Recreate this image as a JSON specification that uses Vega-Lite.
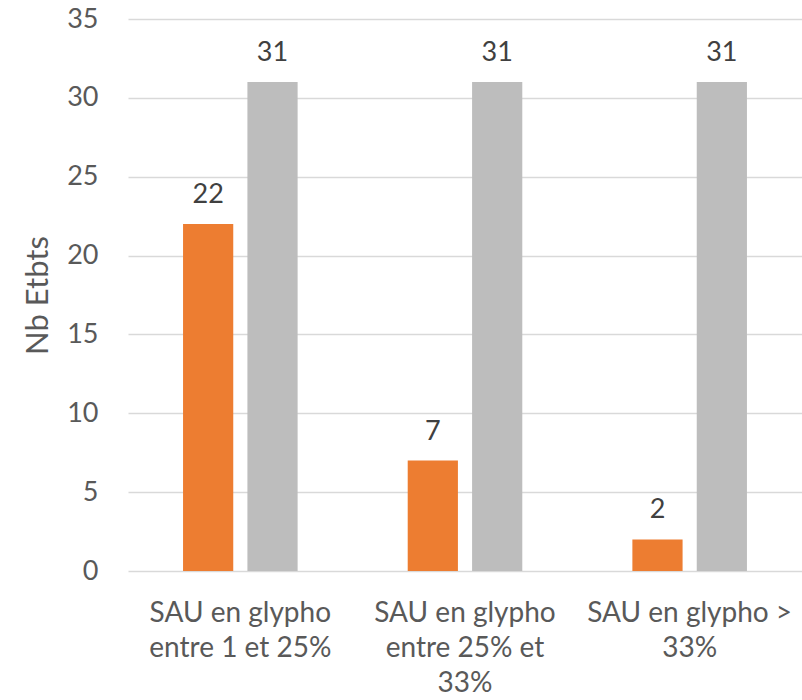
{
  "$schema": "https://vega.github.io/schema/vega-lite/v6.json",
  "autosize": {"type": "none"},
  "width": 674,
  "height": 552,
  "padding": {"left": 128, "top": 19, "right": 0, "bottom": 129},
  "background": "white",
  "config": {
    "view": {"stroke": null},
    "font": "Lato"
  },
  "data": {
    "values": [
      {"categorie": "SAU en glypho|entre 1 et 25%", "serie": "A", "nb": 22},
      {"categorie": "SAU en glypho|entre 1 et 25%", "serie": "B", "nb": 31},
      {"categorie": "SAU en glypho|entre 25% et|33%", "serie": "A", "nb": 7},
      {"categorie": "SAU en glypho|entre 25% et|33%", "serie": "B", "nb": 31},
      {"categorie": "SAU en glypho >|33%", "serie": "A", "nb": 2},
      {"categorie": "SAU en glypho >|33%", "serie": "B", "nb": 31}
    ]
  },
  "encoding": {
    "x": {
      "field": "categorie",
      "type": "nominal",
      "sort": null,
      "scale": {"paddingInner": 0.49, "paddingOuter": 0.245},
      "axis": {
        "title": null,
        "labelAngle": 0,
        "labelExpr": "split(datum.label, '|')",
        "labelFontSize": 28,
        "labelColor": "#595959",
        "labelPadding": 28,
        "labelLineHeight": 35,
        "labelBaseline": "top",
        "labelLimit": 240,
        "ticks": false,
        "domain": false,
        "grid": false
      }
    },
    "xOffset": {
      "field": "serie",
      "type": "nominal",
      "scale": {"paddingInner": 0.22, "paddingOuter": 0}
    },
    "y": {
      "field": "nb",
      "type": "quantitative",
      "scale": {"domain": [0, 35], "nice": false},
      "axis": {
        "title": "Nb Etbts",
        "titleFontSize": 31,
        "titleFontWeight": "normal",
        "titleColor": "#595959",
        "titlePadding": 12,
        "values": [0, 5, 10, 15, 20, 25, 30, 35],
        "labelFontSize": 27,
        "labelColor": "#595959",
        "labelPadding": 30,
        "ticks": false,
        "domain": false,
        "gridColor": "#d9d9d9",
        "gridWidth": 1.5
      }
    }
  },
  "layer": [
    {
      "mark": {"type": "bar"},
      "encoding": {
        "color": {
          "field": "serie",
          "type": "nominal",
          "scale": {"domain": ["A", "B"], "range": ["#ED7D31", "#BDBDBD"]},
          "legend": null
        }
      }
    },
    {
      "mark": {"type": "text", "baseline": "alphabetic", "dy": -21, "fontSize": 27, "color": "#404040"},
      "encoding": {
        "text": {"field": "nb", "type": "quantitative"}
      }
    }
  ]
}
